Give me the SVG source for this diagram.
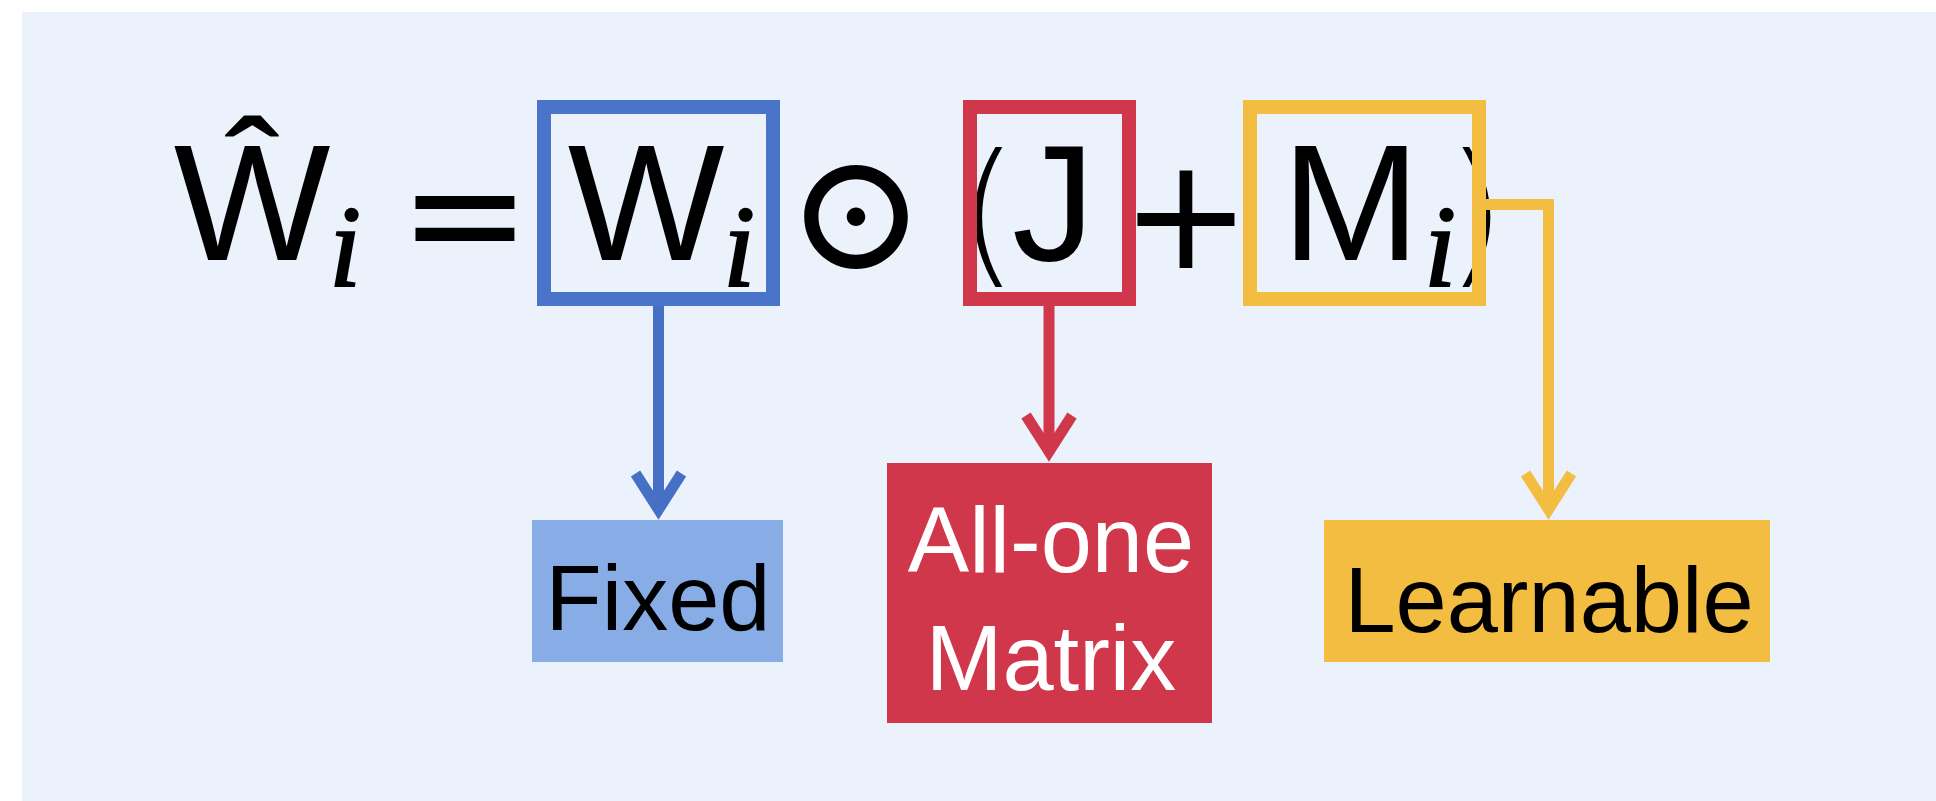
<svg xmlns="http://www.w3.org/2000/svg" width="1936" height="801" viewBox="0 0 1936 801">
  <style>
    .sans { font-family: "Liberation Sans", Arial, sans-serif; }
    .paren { font-family: "DejaVu Sans", sans-serif; font-weight: 200; }
    .ital { font-family: "Liberation Serif", "Times New Roman", serif; font-style: italic; stroke: #000; stroke-width: 2; }
    .math { font-family: "DejaVu Sans", sans-serif; }
    .odot { font-family: "Noto Sans CJK SC", "DejaVu Sans", sans-serif; font-weight: 700; }
    .eq { fill: #000; }
    .frame { fill: none; stroke-width: 14; }
    .link { fill: none; stroke-width: 11; stroke-linejoin: miter; }
    .label { font-family: "Liberation Sans", Arial, sans-serif; font-size: 92px; text-anchor: middle; }
  </style>
  <defs>
    <marker id="ah-blue" markerUnits="userSpaceOnUse" markerWidth="80" markerHeight="80" viewBox="-60 -40 80 80" refX="0" refY="0" orient="auto" overflow="visible">
      <path d="M-36,-23 L0,0 L-36,23" fill="none" stroke="#4570C6" stroke-width="11"/>
    </marker>
    <marker id="ah-red" markerUnits="userSpaceOnUse" markerWidth="80" markerHeight="80" viewBox="-60 -40 80 80" refX="0" refY="0" orient="auto" overflow="visible">
      <path d="M-36,-23 L0,0 L-36,23" fill="none" stroke="#D1374B" stroke-width="11"/>
    </marker>
    <marker id="ah-yellow" markerUnits="userSpaceOnUse" markerWidth="80" markerHeight="80" viewBox="-60 -40 80 80" refX="0" refY="0" orient="auto" overflow="visible">
      <path d="M-36,-23 L0,0 L-36,23" fill="none" stroke="#F3BD41" stroke-width="11"/>
    </marker>
  </defs>

  <!-- panel background -->
  <rect x="22" y="12" width="1914" height="789" fill="#EBF2FB"/>

  <!-- the equation -->
  <g id="equation" class="eq">
    <text class="sans" x="252" y="260" font-size="166" text-anchor="middle">Ŵ</text>
    <text class="ital" x="345" y="286" font-size="116" text-anchor="middle">i</text>
    <text class="math" x="465" y="268" font-size="158" text-anchor="middle">=</text>
    <text class="sans" x="646" y="260" font-size="166" text-anchor="middle">W</text>
    <text class="ital" x="739" y="286" font-size="116" text-anchor="middle">i</text>
    <text class="odot" x="856" y="270" font-size="140" text-anchor="middle">⊙</text>
    <text class="paren" x="988" y="266" font-size="157" text-anchor="middle">(</text>
    <text class="sans" x="1012" y="260" font-size="166">J</text>
    <text class="math" x="1186" y="268" font-size="155" text-anchor="middle">+</text>
    <text class="sans" x="1351" y="260" font-size="166" text-anchor="middle">M</text>
    <text class="ital" x="1440" y="286" font-size="116" text-anchor="middle">i</text>
    <text class="paren" x="1476" y="266" font-size="157" text-anchor="middle">)</text>
  </g>

  <!-- highlighted terms -->
  <g id="term-w">
    <rect class="frame" x="544" y="107" width="229" height="192" stroke="#4A74C9"/>
  </g>
  <g id="term-j">
    <rect class="frame" x="970" y="107" width="159" height="192" stroke="#D1374B"/>
  </g>
  <g id="term-m">
    <rect class="frame" x="1250" y="107" width="229" height="192" stroke="#F3BD41"/>
  </g>

  <!-- connectors -->
  <g id="connectors">
    <path class="link" d="M658.5,306 V509.5" stroke="#4570C6" marker-end="url(#ah-blue)"/>
    <path class="link" d="M1049,306 V451.5" stroke="#D1374B" marker-end="url(#ah-red)"/>
    <path class="link" d="M1486,204.5 H1548.5 V509.5" stroke="#F3BD41" marker-end="url(#ah-yellow)"/>
  </g>

  <!-- labels -->
  <g id="fixed">
    <rect x="532" y="520" width="251" height="142" fill="#88ADE6"/>
    <text class="label" x="658" y="630" fill="#000">Fixed</text>
  </g>
  <g id="all-one-matrix">
    <rect x="887" y="463" width="325" height="260" fill="#D1374B"/>
    <text class="label" x="1051" y="572" fill="#fff">All-one</text>
    <text class="label" x="1051" y="690" fill="#fff">Matrix</text>
  </g>
  <g id="learnable">
    <rect x="1324" y="520" width="446" height="142" fill="#F3BD41"/>
    <text class="label" x="1549" y="632" fill="#000">Learnable</text>
  </g>
</svg>
